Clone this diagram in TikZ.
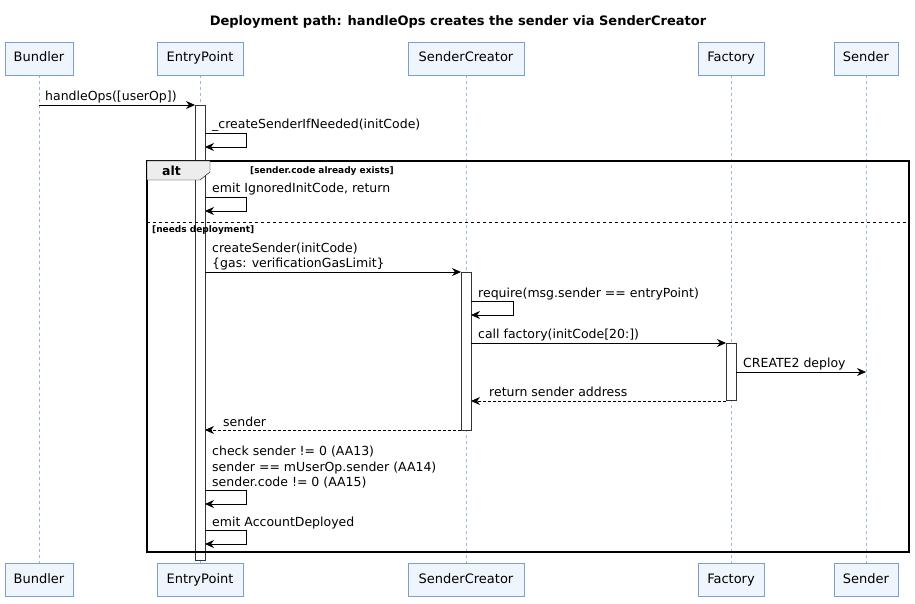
\documentclass[tikz,border=0pt]{standalone}
\usepackage{fontspec}
\setmainfont{DejaVu Sans}
\usetikzlibrary{arrows.meta}
\definecolor{pfill}{HTML}{EEF5FD}
\definecolor{pbord}{HTML}{7B9FD0}
\definecolor{life}{HTML}{9DB7DB}
\begin{document}
\begin{tikzpicture}[x=1pt,y=-1pt,
  part/.style={draw=pbord,fill=pfill,minimum height=33pt,inner xsep=5pt,text height=10pt,text depth=3pt,font=\fontsize{13}{15}\selectfont},
  act/.style={draw=black!80,fill=white},
  msg/.style={-{Stealth[length=9pt,width=8pt]},thick},
  ret/.style={-{Stealth[length=9pt,width=8pt,sep=0pt]},thick,dash pattern=on 3pt off 2pt},
  lbl/.style={font=\fontsize{12.5}{15}\selectfont,anchor=base west,inner sep=0pt},
  guard/.style={font=\bfseries\fontsize{9}{10}\selectfont,anchor=base west,inner sep=0pt}]
\useasboundingbox (0,0) rectangle (915,604);
\node[font=\bfseries\fontsize{13}{15}\selectfont] (title) at (458,22) {Deployment path: handleOps creates the sender via SenderCreator};
\foreach \n/\x/\w in {Bundler/39/68,EntryPoint/200/86,SenderCreator/466/116,Factory/731/66,Sender/866/64}{
  \draw[life,dashed] (\x,75) -- (\x,563);
  \node[part,minimum width=\w pt] (\n top) at (\x,58.5) {\n};
  \node[part,minimum width=\w pt] (\n bot) at (\x,579.5) {\n};
}
\draw[act] (195,105) rectangle (205,560);
\draw[act] (461,272) rectangle (471,430);
\draw[act] (726,343) rectangle (736,400);
\coordinate (b) at (39,105); \coordinate (e) at (195,105);
\draw[msg] (b) -- (e);
\node[lbl] (m1) at (45,101) {handleOps([userOp])};
\foreach \y in {133,197,490,530}{
  \draw[msg] (205,\y) -- (246,\y) -- (246,\y+14) -- (205,\y+14);
}
\node[lbl] at (212,129) {\_createSenderIfNeeded(initCode)};
\node[lbl] at (212,193) {emit IgnoredInitCode, return};
\node[lbl] at (212,455) {check sender != 0 (AA13)};
\node[lbl] at (212,471) {sender == mUserOp.sender (AA14)};
\node[lbl] at (212,486) {sender.code != 0 (AA15)};
\node[lbl] at (212,526) {emit AccountDeployed};
% alt frame
\draw[line width=1.5pt] (147,161) rectangle (909,552);
\draw[fill=black!7] (147,161) -- (210,161) -- (210,172) -- (200,180) -- (147,180) -- cycle;
\node[font=\bfseries\fontsize{12.5}{15}\selectfont,anchor=base west,inner sep=0pt] at (162,176) {alt};
\node[guard] at (250,174) {[sender.code already exists]};
\draw[dashed] (147,222) -- (909,222);
\node[guard] at (152,232) {[needs deployment]};
\draw[msg] (205,272) -- (461,272);
\node[lbl] at (212,252) {createSender(initCode)};
\node[lbl] at (212,267) {\{gas: verificationGasLimit\}};
\draw[msg] (471,301) -- (513,301) -- (513,315) -- (471,315);
\node[lbl] at (478,297) {require(msg.sender == entryPoint)};
\draw[msg] (471,343) -- (726,343);
\node[lbl] at (478,338) {call factory(initCode[20:])};
\draw[msg] (736,372) -- (866,372);
\node[lbl] at (743,367) {CREATE2 deploy};
\draw[ret] (726,401) -- (471,401);
\node[lbl] at (489,396) {return sender address};
\draw[ret] (461,430) -- (205,430);
\node[lbl] at (223,426) {sender};
\end{tikzpicture}
\end{document}
